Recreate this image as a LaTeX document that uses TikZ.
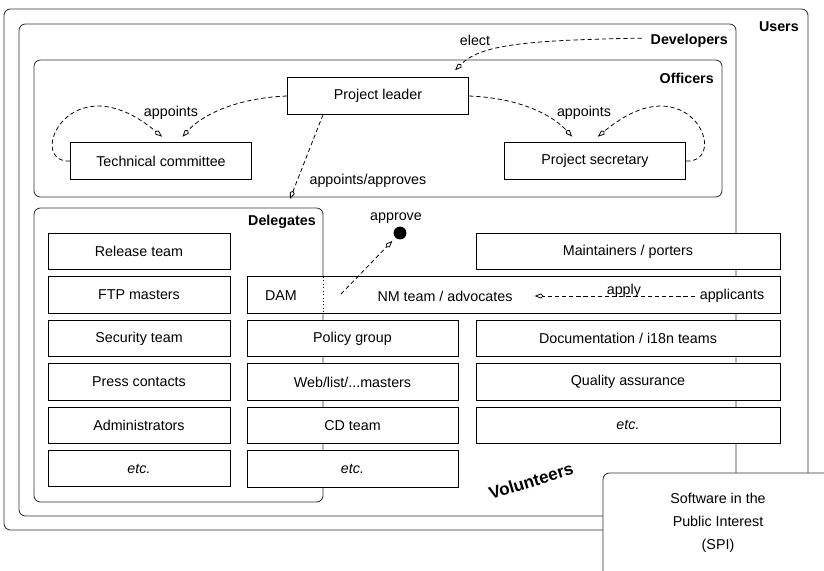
\documentclass[tikz,border=0pt]{standalone}
\usepackage{fontspec}
\setmainfont{Liberation Sans}
\usetikzlibrary{positioning,arrows.meta}

\begin{document}
\begin{tikzpicture}[x=0.7pt,y=-0.7pt,%
		   group/.style={draw=black!80,rounded corners=4.5pt,line width=0.6pt},
		   grouplabel/.style={font=\bfseries,anchor=east,inner sep=0pt},
		   team/.style={draw,fill=white,line width=0.6pt,minimum height=25.5pt,inner sep=0pt},
		   rel/.style={-{Kite[open,length=6pt,width=3.6pt]},dash pattern=on 3pt off 2pt,line width=0.55pt}]

	\useasboundingbox (0,0) rectangle (824,570);

	% nested groups
	\draw[group] (4,9) rectangle (808,530);
	\draw[group] (19,24) rectangle (736,516);
	\draw[group] (34,60) rectangle (722,197);
	\draw[group] (34,208) rectangle (323,502);
	\node[grouplabel] (userlabel) at (799,27) {Users};
	\node[grouplabel] (devlabel) at (728,41) {Developers};
	\node[grouplabel] (officerlabel) at (714,78) {Officers};
	\node[grouplabel] (delegatelabel) at (316,222) {Delegates};

	% officers
	\node[team,minimum width=127pt] (leader) at (378,96) {Project leader};
	\node[team,minimum width=127pt] (tc) at (161,161) {Technical committee};
	\node[team,minimum width=127pt] (ps) at (595,161) {Project secretary};

	% delegates
	\foreach \name/\desc [count=\y] in {%
		release/Release team,ftp/FTP masters,security/Security team,%
		press/Press contacts,admins/Administrators,moreleft/\textit{etc.}%
	   } { \ifnum\y=1 \node[team,minimum width=127.4pt](\name) at (139,251.5) {\desc};
	       \else\node[team,minimum width=127.4pt,below=4.3pt of \z](\name){\desc};
	       \fi
	       \global\let\z=\name% for stacking below the last box
	   }
	\foreach \name/\desc [count=\y] in {%
		policy/Policy group,web/{Web/list/...masters},cdteam/CD team,moremid/\textit{etc.}%
	   } { \ifnum\y=1 \node[team,minimum width=147.7pt](\name) at (352.5,338.5) {\desc};
	       \else\node[team,minimum width=147.7pt,below=4.3pt of \z](\name){\desc};
	       \fi
	       \global\let\z=\name
	   }

	% volunteers
	\node[team,minimum width=212.8pt] (maintainers) at (628,251.5) {Maintainers / porters};
	\foreach \name/\desc [count=\y] in {%
		docs/{Documentation / i18n teams},qa/Quality assurance,moreright/\textit{etc.}%
	   } { \ifnum\y=1 \node[team,minimum width=212.8pt](\name) at (628,338.5) {\desc};
	       \else\node[team,minimum width=212.8pt,below=4.3pt of \z](\name){\desc};
	       \fi
	       \global\let\z=\name
	   }

	% new members row
	\node[team,minimum width=373.1pt] (nmrow) at (513.5,295) {};
	\draw[dotted] (323,277) -- (323,313);
	\node (dam) at (281,296) {DAM};
	\node (nm) at (445,296) {NM team / advocates};
	\node (applicants) at (732,296) {applicants};
	\node[circle,fill,inner sep=0pt,minimum size=9pt] (approve) at (400,233) {};
	\node (approvelabel) at (396,218) {approve};
	\coordinate (damlink) at (341,294);
	\coordinate (delegtop) at (290,199);

	\node[font=\bfseries\large,rotate=17] (volunteers) at (531,481) {Volunteers};

	% relations
	\draw[rel] ([xshift=-6pt,yshift=2pt]devlabel.west) .. controls +(-120,2) and +(25,-25) .. ([xshift=-9.8pt,yshift=5pt]leader.north east);
	\node (electlabel) at (475,40) {elect};
	\draw[rel] (leader.west) .. controls +(-50,2) and +(20,-22) .. ([xshift=15pt,yshift=4pt]tc.north);
	\draw[rel] (tc.west) .. controls +(-45,2) and +(-92,-77) .. ([xshift=0.7pt,yshift=4pt]tc.north);
	\node (appointtc) at (171,113) {appoints};
	\draw[rel] (leader.east) .. controls +(50,2) and +(-20,-22) .. ([xshift=-16pt,yshift=4pt]ps.north);
	\draw[rel] (ps.east) .. controls +(45,2) and +(92,-77) .. ([xshift=2pt,yshift=4pt]ps.north);
	\node (appointps) at (584,113) {appoints};
	\draw[rel] ([xshift=-38.5pt]leader.south) -- (delegtop)
		node[pos=0.78,right=5pt] (appointlabel) {appoints/approves};
	\draw[rel,shorten >=3pt] (damlink) -- (approve);
	\draw[rel,shorten >=12pt] (applicants.west) -- (nm.east)
		node[pos=0.4,anchor=base,yshift=1.2pt] (applylabel) {apply};

	% foundation
	\draw[group,fill=white] (603,473) rectangle (860,610);
	\node[align=center] (spi) at (718,523) {Software in the\\[4pt]Public Interest\\[4pt](SPI)};
\end{tikzpicture}
\end{document}
